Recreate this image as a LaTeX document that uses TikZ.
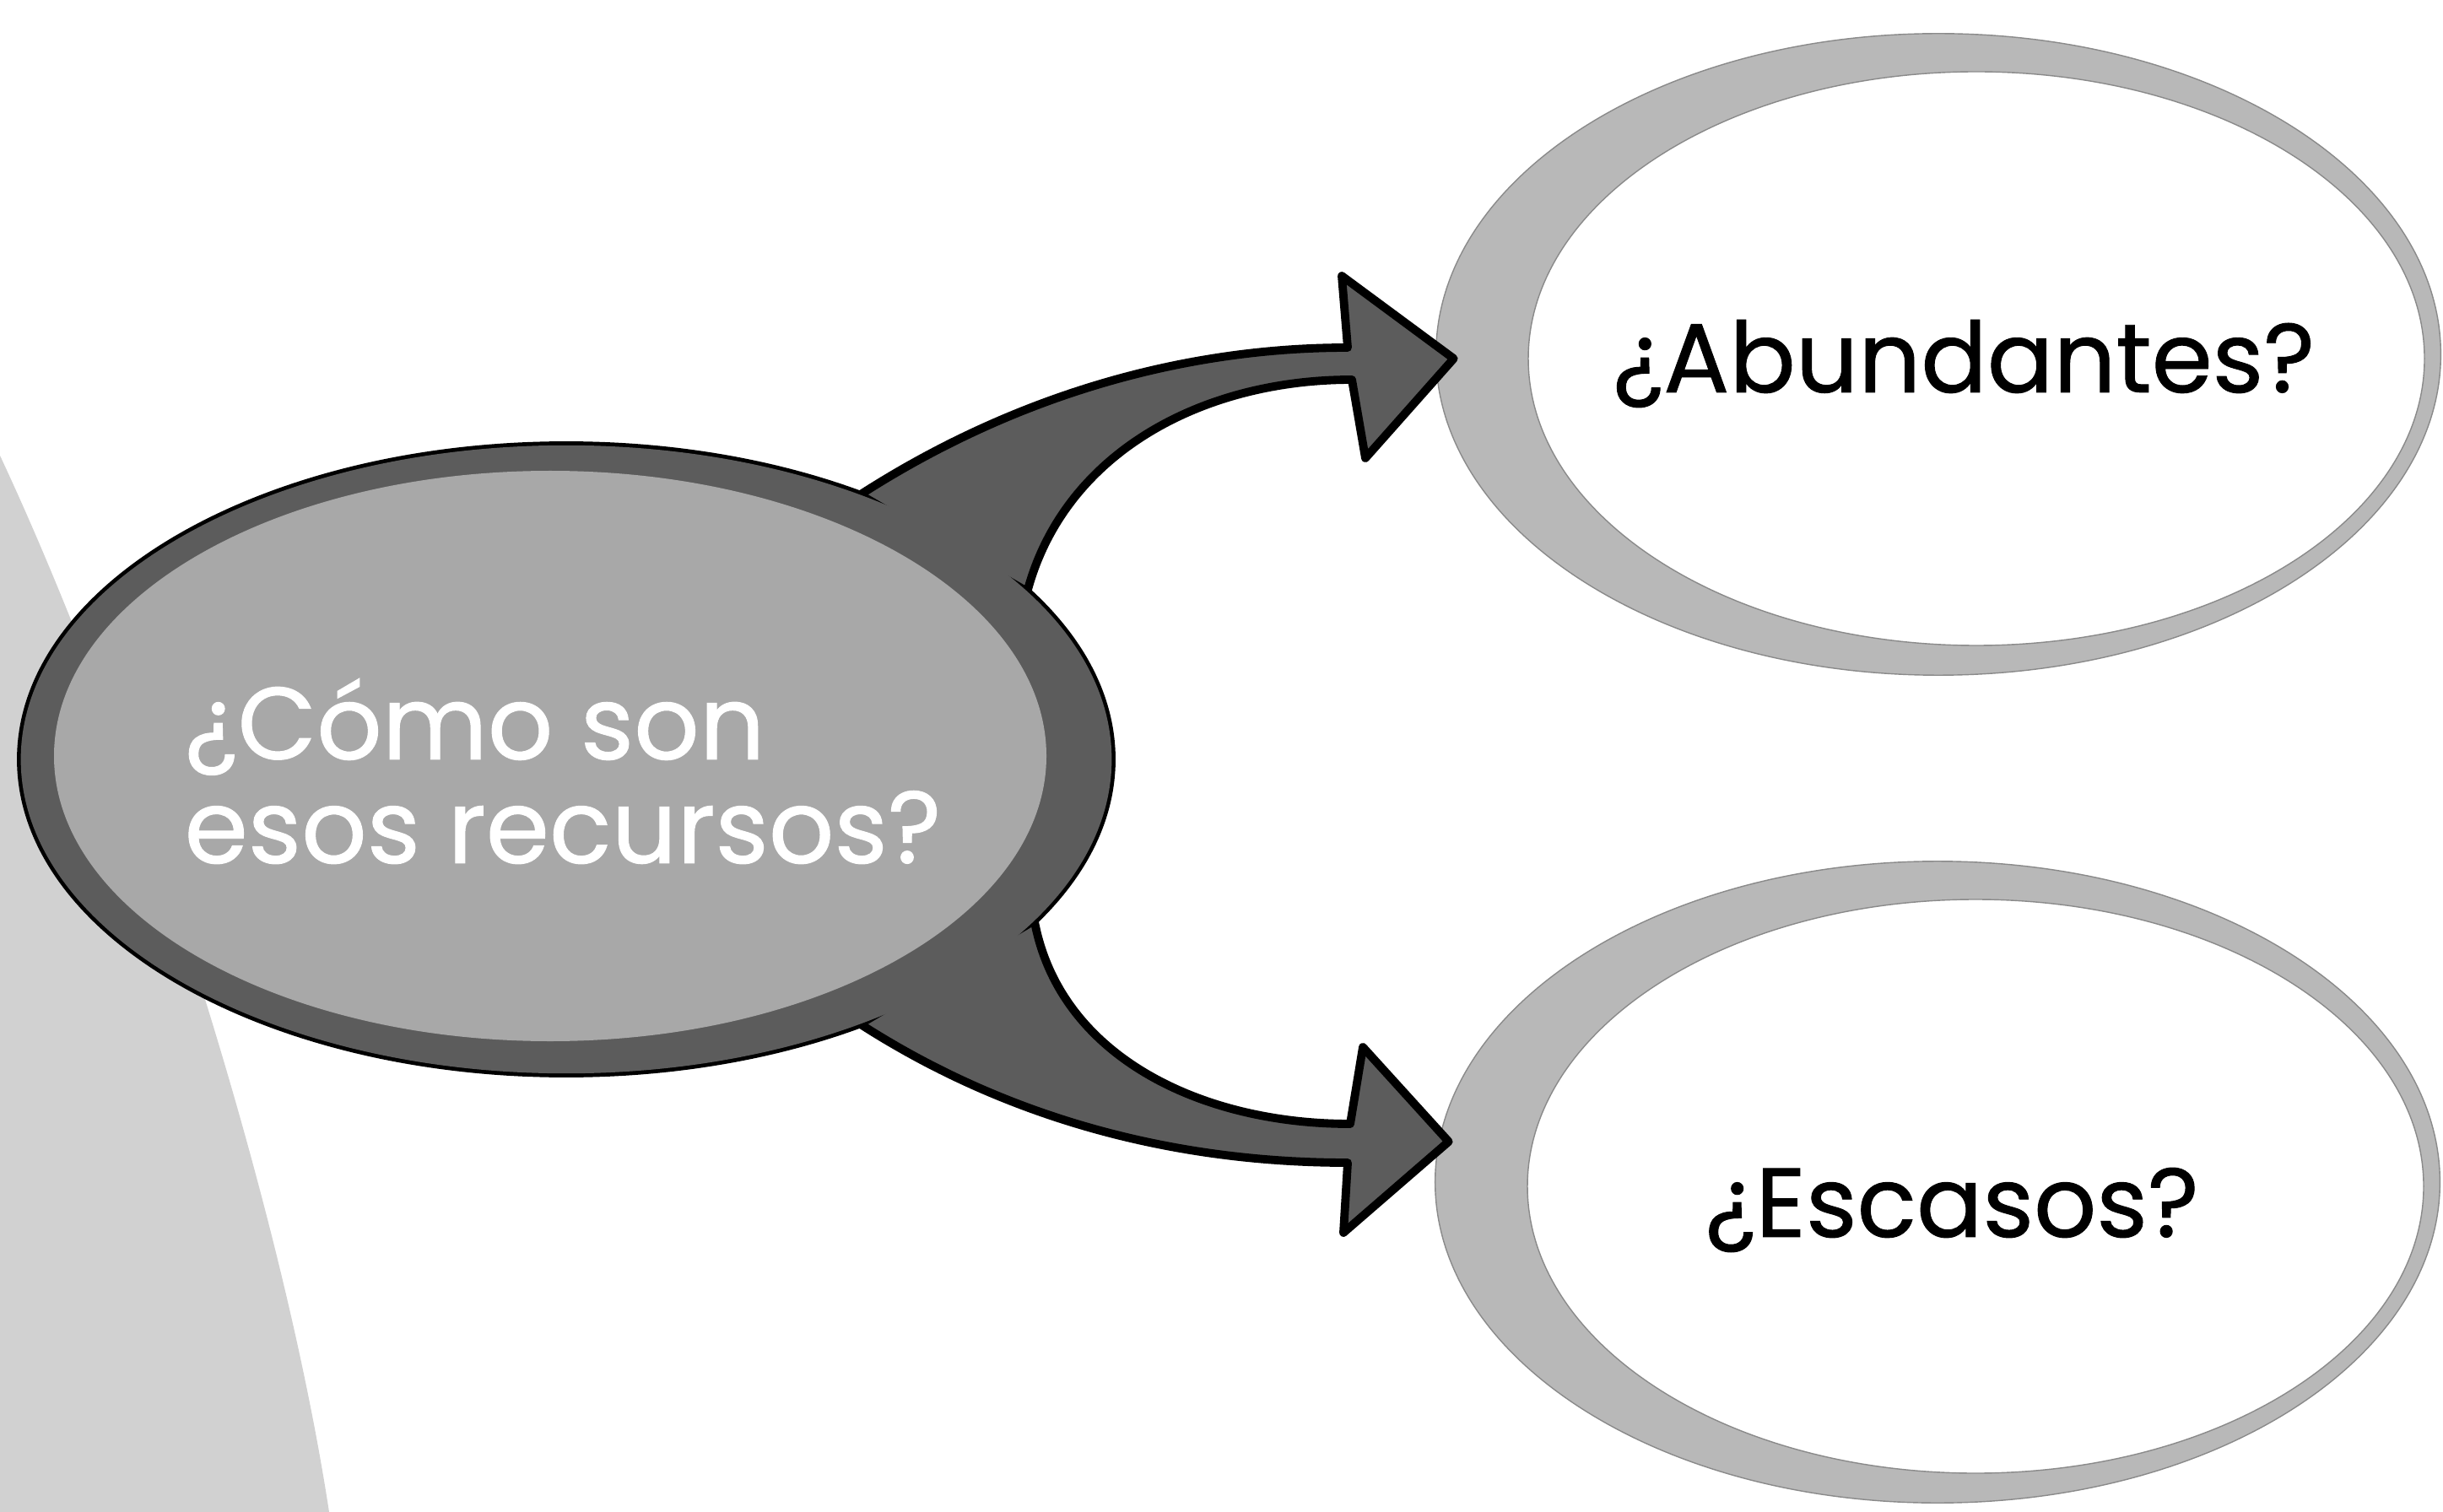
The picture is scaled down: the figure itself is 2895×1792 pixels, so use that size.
\documentclass[tikz,border=0pt]{standalone}
\usepackage{fontspec}
\setmainfont{Poppins}
\newfontfamily\gothic[FakeBold=0.8]{Poppins}
\usetikzlibrary{shapes.geometric}
\pgfdeclarelayer{back}
\pgfdeclarelayer{links}
\pgfsetlayers{back,links,main}
\definecolor{paper}{gray}{0.82}
\definecolor{bubble}{gray}{0.66}
\definecolor{shade}{gray}{0.36}
\definecolor{ring}{gray}{0.72}

\begin{document}
\begin{tikzpicture}[x=0.01cm, y=-0.01cm,
    big/.style={ellipse, inner sep=0pt, outer sep=0pt},
    caption/.style={font=\gothic\fontsize{33}{35}\selectfont},
    root/.style={big, fill=shade, minimum width=12.92cm, minimum height=7.44cm,
      path picture={\fill[bubble] ([shift={(-19,-4)}]path picture bounding box.center)
        ellipse [x radius=588, y radius=338];}},
    leaf/.style={big, fill=ring, draw=ring!75!black, minimum width=11.9cm,
      minimum height=7.6cm,
      path picture={\filldraw[fill=white, draw=ring!75!black]
        ([shift={(45,5)}]path picture bounding box.center)
        ellipse [x radius=531, y radius=340];}},
    link/.style={fill=shade, draw=black, line width=2.8pt, line join=round}]
  \useasboundingbox (0,0) rectangle (2895,1792);
  \begin{pgfonlayer}{back}
    \fill[paper] (0,540) .. controls (150,860) and (330,1400) .. (390,1792)
      -- (0,1792) -- cycle;
    \node[leaf, label={[caption, shift={(30,11)}]center:¿Abundantes?}] (abund)
      at (2297,420) {};
    \node[leaf, label={[caption, shift={(17,33)}]center:¿Escasos?}] (escas)
      at (2296,1401) {};
  \end{pgfonlayer}
  \node[root, label={[caption, font=\gothic\fontsize{34.5}{35}\selectfont,
      text=white, align=left, shift={(-4,14)}]center:{¿Cómo son\\esos recursos?}}]
    (recursos) at (671,900) {};
  \begin{pgfonlayer}{links}
    \draw[link, fill=none] (recursos.center) ellipse [x radius=646, y radius=372];
    % upper arrow
    \filldraw[link] (recursos.42) .. controls (1200,470) and (1400,412) .. (1597,412)
      -- (1590,327) -- ([shift={(21,5)}]abund.west) -- (1618,543) -- (1602,450)
      .. controls (1420,450) and (1260,540) .. (recursos.20) -- cycle;
    % lower arrow
    \filldraw[link] (recursos.-42) .. controls (1200,1330) and (1400,1378) .. (1597,1378)
      -- (1592,1461) -- ([shift={(16,-48)}]escas.west) -- (1615,1241) -- (1600,1332)
      .. controls (1420,1332) and (1255,1250) .. (recursos.-19) -- cycle;
  \end{pgfonlayer}
\end{tikzpicture}
\end{document}
